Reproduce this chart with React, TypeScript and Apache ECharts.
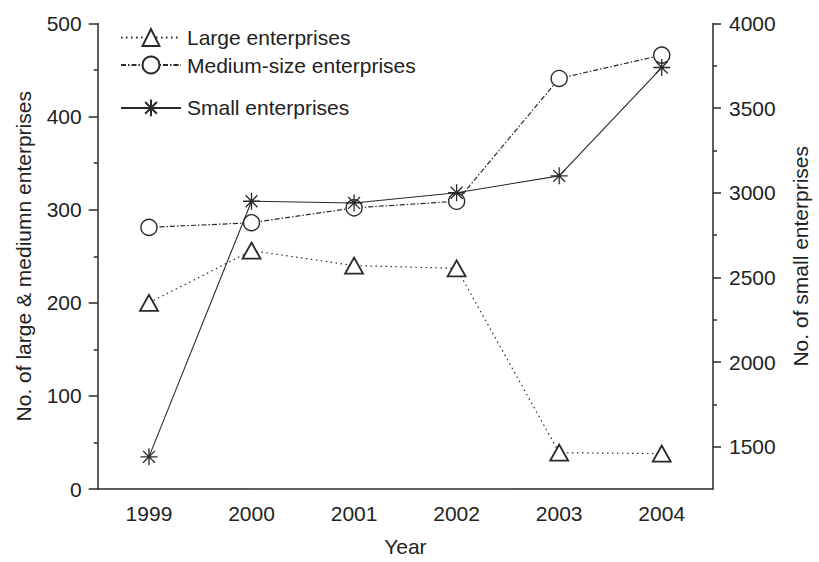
import React, { useEffect, useRef } from "react";
import * as echarts from "echarts";

const years = ["1999", "2000", "2001", "2002", "2003", "2004"];
const largeEnterprises = [200, 256, 240, 237, 39, 38];
const mediumEnterprises = [281, 286, 302, 309, 441, 466];
const smallEnterprises = [1440, 2950, 2940, 3000, 3100, 3740];

const leftTicks = [0, 100, 200, 300, 400, 500];
const rightMajorTicks = [1500, 2000, 2500, 3000, 3500, 4000];
const rightMinorTicks = [1750, 2250, 2750, 3250, 3750];

const FONT = "'Liberation Sans', Arial, Helvetica, sans-serif";
const FS = 21;
const INK = "#222";
const LINE = "#2a2a2a";

// eight-armed asterisk marker, stroked only
const ASTERISK = "path://M10 0L10 20M0 10L20 10M3 3L17 17M17 3L3 17";

export default function App() {
  const ref = useRef<HTMLDivElement>(null);

  useEffect(() => {
    if (!ref.current) return;
    const chart = echarts.init(ref.current, null, { renderer: "svg" });

    const legendBase = (name: string, top: number) => ({
      data: [name],
      left: 120,
      top,
      padding: 0,
      itemWidth: 60,
      itemHeight: 21,
      itemGap: 0,
      selectedMode: false,
      textStyle: { fontFamily: FONT, fontSize: FS, color: INK, padding: [0, 0, 0, 1] },
    });

    chart.setOption({
      animation: false,
      backgroundColor: "#fff",
      grid: { left: 97.7, right: 97.3, top: 23.5, bottom: 66, containLabel: false },
      legend: [
        legendBase("Large enterprises", 27),
        legendBase("Medium-size enterprises", 54.5),
        legendBase("Small enterprises", 97),
      ],
      xAxis: {
        type: "category",
        data: years,
        boundaryGap: true,
        name: "Year",
        nameLocation: "middle",
        nameGap: 47,
        nameTextStyle: { fontFamily: FONT, fontSize: FS, color: INK },
        axisLine: { lineStyle: { color: LINE, width: 1.5 } },
        axisTick: { alignWithLabel: true, length: 9, lineStyle: { color: LINE, width: 1.5 } },
        axisLabel: { fontFamily: FONT, fontSize: FS, color: INK, margin: 14 },
        splitLine: { show: false },
      },
      yAxis: [
        {
          type: "value",
          position: "left",
          min: leftTicks[0],
          max: leftTicks[leftTicks.length - 1],
          interval: 100,
          name: "No. of large & mediumn enterprises",
          nameLocation: "middle",
          nameRotate: 90,
          nameGap: 64,
          nameTextStyle: { fontFamily: FONT, fontSize: FS, color: INK },
          axisLine: { show: true, lineStyle: { color: LINE, width: 1.5 } },
          axisTick: { show: true, length: 9, lineStyle: { color: LINE, width: 1.5 } },
          minorTick: { show: true, splitNumber: 2, length: 4, lineStyle: { color: LINE, width: 1.5 } },
          axisLabel: { fontFamily: FONT, fontSize: FS, color: INK, margin: 16 },
          splitLine: { show: false },
          minorSplitLine: { show: false },
        },
        {
          type: "value",
          position: "right",
          min: 1250,
          max: 4000,
          name: "No. of small enterprises",
          nameLocation: "middle",
          nameRotate: 90,
          nameGap: 77,
          nameTextStyle: { fontFamily: FONT, fontSize: FS, color: INK },
          axisLine: { show: true, lineStyle: { color: LINE, width: 1.5 } },
          axisTick: {
            show: true,
            length: 8,
            customValues: rightMajorTicks,
            lineStyle: { color: LINE, width: 1.5 },
          },
          axisLabel: {
            fontFamily: FONT,
            fontSize: FS,
            color: INK,
            margin: 16,
            customValues: rightMajorTicks,
            formatter: (v: number) => String(v),
          },
          splitLine: { show: false },
        },
        {
          type: "value",
          position: "right",
          min: 1250,
          max: 4000,
          axisLine: { show: false },
          axisTick: {
            show: true,
            length: 4,
            customValues: rightMinorTicks,
            lineStyle: { color: LINE, width: 1.5 },
          },
          axisLabel: { show: false },
          splitLine: { show: false },
        },
      ],
      series: [
        {
          name: "Large enterprises",
          type: "line",
          yAxisIndex: 0,
          data: largeEnterprises,
          symbol: "triangle",
          symbolSize: [18, 16],
          lineStyle: { color: LINE, width: 1.2, type: [1.5, 3.5] },
          itemStyle: { color: "#fff", borderColor: LINE, borderWidth: 1.8 },
          z: 3,
        },
        {
          name: "Medium-size enterprises",
          type: "line",
          yAxisIndex: 0,
          data: mediumEnterprises,
          symbol: "circle",
          symbolSize: 16,
          lineStyle: { color: LINE, width: 1.2, type: [5, 2, 1.5, 2] },
          itemStyle: { color: "#fff", borderColor: LINE, borderWidth: 1.4 },
          z: 3,
        },
        {
          name: "Small enterprises",
          type: "line",
          yAxisIndex: 1,
          data: smallEnterprises,
          symbol: ASTERISK,
          symbolSize: 17,
          lineStyle: { color: LINE, width: 1.1, type: "solid" },
          itemStyle: { color: "none", borderColor: LINE, borderWidth: 1.3 },
          z: 4,
        },
      ],
    });

    return () => chart.dispose();
  }, []);

  return (
    <div
      ref={ref}
      style={{ position: "fixed", left: 0, top: 0, width: 819, height: 562, background: "#fff" }}
    />
  );
}
